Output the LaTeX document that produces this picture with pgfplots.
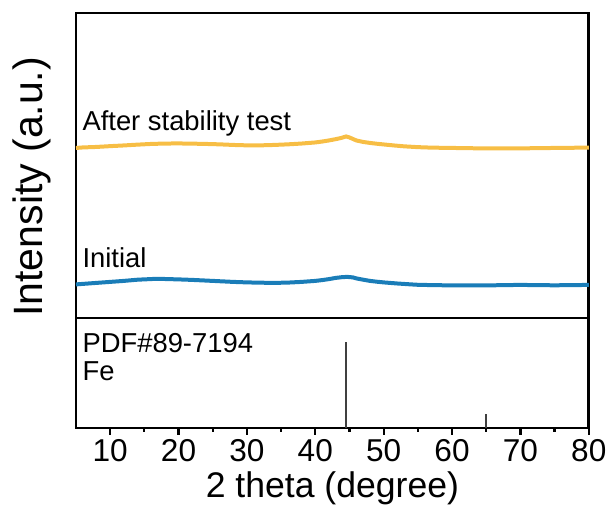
\documentclass[border=0pt]{standalone}
\usepackage{pgfplots}
\pgfplotsset{compat=1.18}
\usepackage{fontspec}
\setmainfont{Liberation Sans}
\definecolor{cyel}{HTML}{F7BE45}
\definecolor{cblu}{HTML}{1A7DB8}
\definecolor{cstick}{HTML}{404040}
\begin{document}
\begin{tikzpicture}
\begin{axis}[name=top, scale only axis, width=256.5pt, height=152.5pt,
  xmin=5, xmax=80, ymin=0, ymax=305,
  xtick=\empty, ytick=\empty, axis line style={line width=1.3pt},
  ylabel={\fontsize{20.5}{24}\selectfont Intensity (a.u.)},
  ylabel style={at={(axis description cs:-0.0858,0.43)}, anchor=center},
  clip=true]
\addplot[cyel, line width=2pt] coordinates {
(5,170)(6,170.5)(8,171)(10,171.8)(12,172.5)(14,173.3)(16,174)(18,174.4)(20,174.5)(22,174.3)(24,174)(26,173.6)(28,173)(30,172.6)(31,172.5)(32,172.6)(34,173)(36,173.6)(38,174.4)(40,175.5)(41,176.4)(42,177.5)(43,178.8)(43.8,180)(44.5,181.5)(45,180.5)(45.5,179)(46,177.5)(47,176)(48,175)(49,174.2)(50,173.5)(51.5,172.5)(53,171.6)(55,170.8)(57,170.3)(60,170)(63,169.7)(65,169.5)(68,169.5)(70,169.6)(73,169.8)(75,170)(78,170.2)(80,170.3)
};
\addplot[cblu, line width=2pt] coordinates {
(5,33.5)(6,34)(8,35)(10,36)(12,37)(14,38.2)(16.5,39)(18,38.9)(20,38.5)(22,38)(25,37)(28,36)(30,35.5)(32,35.2)(34,35)(36,35.3)(38,36)(40,37)(41,37.8)(42,38.8)(43,40)(44,40.8)(44.7,41)(45.5,40.5)(46,39.5)(47,38.2)(48,37)(49,36.2)(50,35.5)(52,34.4)(54,33.5)(55,33.1)(57,32.8)(60,32.5)(63,32.4)(65,32.5)(68,32.8)(70,33)(72,32.8)(75,32.6)(78,32.8)(80,33)
};
\node[anchor=base west, font=\fontsize{13.7}{16}\selectfont, inner sep=0pt] at (axis cs:5.9,187) {After stability test};
\node[anchor=base west, font=\fontsize{13.7}{16}\selectfont, inner sep=0pt] at (axis cs:5.9,50) {Initial};
\end{axis}
\begin{axis}[name=bot, at={(top.south west)}, anchor=north west,
  scale only axis, width=256.5pt, height=55pt,
  xmin=5, xmax=80, ymin=0, ymax=110,
  ytick=\empty, axis line style={line width=1.3pt},
  xtick={10,20,...,80}, minor xtick={15,25,...,75},
  tick align=outside, xtick pos=bottom,
  major tick length=3.5pt, minor tick length=2pt,
  every tick/.style={black, line width=1.1pt},
  xticklabel style={font=\fontsize{15.8}{18}\selectfont, yshift=1pt},
  /pgf/number format/assume math mode=true,
  xlabel={\fontsize{17.8}{20}\selectfont 2 theta (degree)},
  xlabel style={yshift=2pt}]
\addplot[ycomb, cstick, line width=1.1pt, mark=none] coordinates {(44.5,86)(65.0,14)};
\node[anchor=base west, font=\fontsize{13.7}{16}\selectfont, inner sep=0pt] at (axis cs:5.9,75.3) {PDF\#89-7194};
\node[anchor=base west, font=\fontsize{13.7}{16}\selectfont, inner sep=0pt] at (axis cs:5.9,47) {Fe};
\end{axis}
\path[use as bounding box] ([shift={(-38pt,6.5pt)}]top.north west) rectangle ([shift={(12pt,-44pt)}]bot.south east);
\end{tikzpicture}
\end{document}
